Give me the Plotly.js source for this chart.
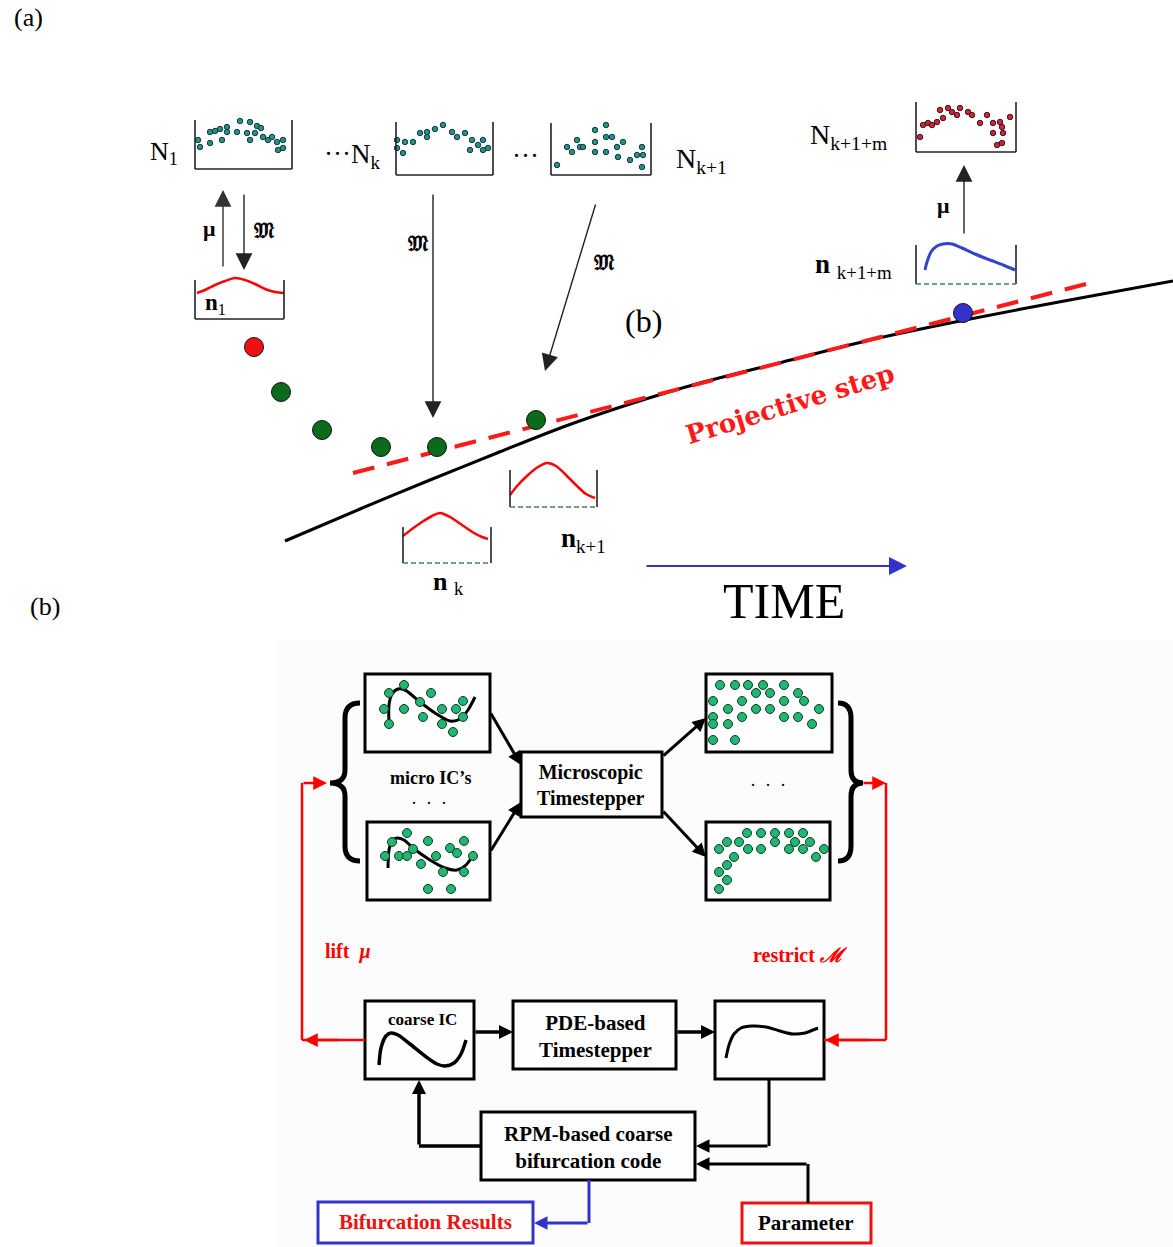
<!DOCTYPE html>
<html>
<head>
<meta charset="utf-8">
<script src="https://cdn.plot.ly/plotly-3.0.1.min.js"></script>
<style>html,body{margin:0;padding:0;background:#fff;}#chart{width:1173px;height:1247px;}</style>
</head>
<body>
<div id="chart"></div>
<script>
// ---------------- DATA (pixel-space diagram coordinates) ----------------
// Panel (a): coarse trajectory and projective step
const trajectory = [[285,541],[360,509],[430,480],[497,453],[563,427],[630,404],[700,383],[783,362],[870,340],[965,320],[1075,299],[1173,281]];
const projectiveStep = [[353,473],[1090,283]];
const bigDotX = [254, 281, 322, 381, 437, 536, 963];
const bigDotY = [347, 392, 430, 447, 447, 420, 313];
const bigDotColor = ['#ee1111','#0b6b1b','#0b6b1b','#0b6b1b','#0b6b1b','#0b6b1b','#3333cc'];

// Coarse profiles n1, nk, nk+1 (red) and nk+1+m (blue)
const n1Curve = [[197,293],[205,290],[215,285],[225,281],[235,278],[245,280],[255,284],[265,289],[275,292],[284,293]];
const nkCurve = [[403,536],[412,529],[422,522],[432,516],[440,513],[450,517],[462,525],[474,533],[482,537],[488,539]];
const nk1Curve = [[510,495],[518,485],[528,475],[538,467],[547,463],[556,466],[566,475],[576,485],[586,494],[595,498]];
const nmCurve = [[925,270],[927,262],[931,252],[937,246],[943,244],[952,244],[962,248],[975,254],[990,260],[1003,265],[1015,270]];

// Microscopic particle snapshots N1, Nk, Nk+1 (green), Nk+1+m (red)
const N1Dots = [[198,140],[200,147],[210,143],[210,132],[215,131],[220,129],[222,140],[227,127],[227,132],[237,132],[240,121],[247,133],[250,122],[250,140],[255,133],[257,126],[261,128],[263,137],[268,140],[272,137],[277,142],[283,140],[283,148],[278,150]];
const NkDots = [[397,140],[397,148],[403,153],[405,142],[413,142],[420,133],[427,137],[427,132],[435,129],[443,125],[452,132],[457,137],[465,133],[472,140],[478,145],[483,140],[483,150],[488,148],[470,150]];
const Nk1Dots = [[557,165],[567,147],[572,152],[577,140],[580,147],[583,147],[595,130],[595,142],[595,152],[606,125],[606,137],[606,152],[612,137],[617,147],[618,157],[623,142],[630,160],[637,155],[642,147],[643,155],[642,167]];
const NmDots = [[920,137],[923,125],[928,123],[932,125],[937,122],[940,110],[943,118],[948,108],[952,112],[957,115],[960,108],[968,112],[972,115],[980,123],[987,115],[993,123],[1000,122],[1002,127],[993,133],[1003,133],[1010,117],[997,145],[1002,143]];

// Panel (b): micro initial conditions and results
const micro1Curve = [[389,723],[389,705],[392,694],[398,689],[405,690],[420,702],[435,713],[450,721],[460,719],[468,710],[475,697]];
const micro2Curve = [[388,868],[389,850],[392,841],[397,838],[404,840],[413,848],[430,860],[445,868],[457,870],[466,865],[475,852]];
const micro1Dots = [[404,685],[389,693],[431,693],[463,701],[384,709],[404,709],[420,702],[442,709],[456,709],[423,717],[463,717],[442,724],[389,724],[453,732]];
const micro2Dots = [[407,833],[428,841],[464,841],[392,842],[413,849],[450,848],[385,856],[399,856],[407,856],[436,856],[457,853],[473,856],[421,864],[443,872],[464,872],[428,889],[451,889]];
const result1Dots = [[720,685],[735,685],[748,685],[763,685],[784,685],[756,693],[770,693],[798,693],[713,701],[742,701],[784,701],[804,701],[728,709],[756,709],[770,709],[819,709],[713,717],[742,717],[784,717],[798,717],[713,724],[728,724],[812,724],[713,740],[735,740]];
const result2Dots = [[747,833],[761,833],[775,833],[789,833],[803,833],[727,842],[739,842],[775,842],[795,842],[810,842],[719,849],[748,849],[761,849],[789,849],[803,849],[824,849],[734,857],[816,857],[727,865],[719,872],[727,880],[719,889]];
const coarseICCurve = [[379,1065],[381,1048],[386,1036],[391,1033],[398,1035],[410,1044],[425,1056],[437,1064],[445,1066],[454,1063],[461,1054],[466,1040]];
const coarseOutCurve = [[726,1058],[729,1045],[734,1034],[741,1028],[752,1026],[766,1027],[780,1031],[793,1034],[805,1033],[813,1030],[818,1028]];

// Text labels
const labelsA = {a:'(a)', b:'(b)', time:'TIME', proj:'Projective step'};
const boxTexts = ['micro IC\u2019s','Microscopic<br>Timestepper','coarse IC','PDE-based<br>Timestepper','RPM-based coarse<br>bifurcation code','Bifurcation Results','Parameter'];

// ---------------- DRAWING ----------------
const SERIF = 'Liberation Serif, Times New Roman, serif';
const xs = p => p.map(d => d[0]);
const ys = p => p.map(d => d[1]);

function line(pts, color, width, dash, smooth){
  return {type:'scatter', mode:'lines', x:xs(pts), y:ys(pts), hoverinfo:'skip',
    line:{color:color, width:width, dash:dash||'solid', shape: smooth ? 'spline' : 'linear', smoothing:0.8}};
}
function dots(pts, size, color, edge){
  return {type:'scatter', mode:'markers', x:xs(pts), y:ys(pts), hoverinfo:'skip',
    marker:{size:size, color:color, line:{color:edge, width:1}}};
}

const traces = [
  line(trajectory, '#000', 3, 'solid', true),
  line(projectiveStep, '#ff1a1a', 4, '22px,13px'),
  {type:'scatter', mode:'markers', x:bigDotX, y:bigDotY, hoverinfo:'skip',
    marker:{size:19, color:bigDotColor, line:{color:'#111', width:1}}},
  line(n1Curve, '#ff0000', 2.5, 'solid', true),
  line(nkCurve, '#ff0000', 2.5, 'solid', true),
  line(nk1Curve, '#ff0000', 2.5, 'solid', true),
  line(nmCurve, '#3344cc', 3, 'solid', true),
  dots(N1Dots, 5.5, '#1f9a66', '#1a2f6a'),
  dots(NkDots, 5.5, '#1f9a66', '#1a2f6a'),
  dots(Nk1Dots, 5.5, '#1f9a66', '#1a2f6a'),
  dots(NmDots, 5.5, '#e02020', '#2a1a3a'),
  line(micro1Curve, '#000', 3, 'solid', true),
  line(micro2Curve, '#000', 3, 'solid', true),
  dots(micro1Dots, 9, '#22b573', '#0d3d25'),
  dots(micro2Dots, 9, '#22b573', '#0d3d25'),
  dots(result1Dots, 9, '#22b573', '#0d3d25'),
  dots(result2Dots, 9, '#22b573', '#0d3d25'),
  line(coarseICCurve, '#000', 3.5, 'solid', true),
  line(coarseOutCurve, '#000', 3, 'solid', true)
];

const shapes = [];
// faint background of panel (b)
shapes.push({type:'rect', x0:275, y0:641, x1:1173, y1:1247, line:{width:0}, fillcolor:'#fcfcfc', layer:'below'});

function ubox(x0,y0,x1,y1,color,w,bottomDash){
  shapes.push({type:'line', x0:x0,y0:y0,x1:x0,y1:y1, line:{color:color,width:w}});
  shapes.push({type:'line', x0:x1,y0:y0,x1:x1,y1:y1, line:{color:color,width:w}});
  shapes.push({type:'line', x0:x0,y0:y1,x1:x1,y1:y1, line:{color: bottomDash ? '#4a7a5a' : color, width:w, dash: bottomDash ? '5px,3px' : 'solid'}});
}
ubox(195,120,292,169,'#222',1.6,false);
ubox(396,122,493,175,'#222',1.6,false);
ubox(551,123,651,175,'#222',1.6,false);
ubox(916,102,1016,152,'#222',1.6,false);
ubox(195,280,284,319,'#222',1.6,false);
ubox(403,527,491,563,'#222',1.6,true);
ubox(510,470,597,507,'#222',1.6,true);
ubox(916,245,1016,284,'#222',1.6,true);

function rect(x0,y0,x1,y1,color,w){
  shapes.push({type:'rect', x0:x0,y0:y0,x1:x1,y1:y1, line:{color:color,width:w}, fillcolor:'rgba(255,255,255,0.6)', layer:'below'});
}
rect(365,674,490,752,'#000',3);
rect(367,822,490,900,'#000',3);
rect(521,752,662,817,'#000',3);
rect(706,674,832,752,'#000',3);
rect(706,822,830,900,'#000',3);
rect(365,1001,474,1079,'#000',3);
rect(513,1001,676,1069,'#000',3);
rect(715,1001,824,1079,'#000',3);
rect(481,1112,695,1180,'#000',3);
rect(318,1202,533,1243,'#3333cc',3);
rect(742,1203,871,1243,'#ee1111',3);

// braces
shapes.push({type:'path', path:'M 360 703 Q 345 703 345 718 L 345 770 Q 345 783 330 783 Q 345 783 345 796 L 345 846 Q 345 861 360 861', line:{color:'#000', width:5}});
shapes.push({type:'path', path:'M 838 703 Q 851 703 851 718 L 851 770 Q 851 783 863 783 Q 851 783 851 796 L 851 846 Q 851 861 838 861', line:{color:'#000', width:5}});

function seg(x0,y0,x1,y1,color,w){ shapes.push({type:'line', x0:x0,y0:y0,x1:x1,y1:y1, line:{color:color,width:w}}); }
// red lift / restrict loops
seg(365,1040,302,1040,'#ff0000',2.5);
seg(302,1040,302,783,'#ff0000',2.5);
seg(886,783,886,1040,'#ff0000',2.5);
seg(886,1040,824,1040,'#ff0000',2.5);
// black connectors
seg(481,1146,419,1146,'#000',3.5);
seg(769,1079,769,1146,'#000',3);
seg(808,1203,808,1164,'#000',3);
// blue connector
seg(589,1180,589,1223,'#3333cc',3);

const ann = [];
function arrow(hx,hy,tx,ty,color,w,size,head){
  ann.push({x:hx,y:hy,ax:tx,ay:ty,xref:'x',yref:'y',axref:'x',ayref:'y',text:'',showarrow:true,
    arrowhead:head||2, arrowsize:size, arrowwidth:w, arrowcolor:color, standoff:0, startstandoff:0});
}
// panel (a) arrows
arrow(223,190,223,268,'#333',1.4,2.4);
arrow(244,270,244,193,'#222',1.4,2.4);
arrow(433,418,433,193,'#222',1.4,2.4);
arrow(545,371,596,203,'#222',1.4,2.4);
arrow(964,165,964,235,'#222',1.4,2.4);
arrow(907,566,645,566,'#3333cc',2,1.8);
// panel (b) arrows
arrow(521,765,490,712,'#000',3,0.9);
arrow(521,802,490,852,'#000',3,0.9);
arrow(706,718,662,757,'#000',3,0.9);
arrow(706,857,662,810,'#000',3,0.9);
arrow(513,1032,474,1032,'#000',3.5,0.8);
arrow(715,1032,676,1032,'#000',3.5,0.8);
arrow(419,1080,419,1146,'#000',3.5,0.8);
arrow(696,1146,769,1146,'#000',3,0.9);
arrow(696,1164,808,1164,'#000',3,0.9);
arrow(534,1223,589,1223,'#3333cc',3,0.9);
arrow(327,783,302,783,'#ff0000',2.5,1.1);
arrow(304,1040,340,1040,'#ff0000',2.5,1.1);
arrow(886,783,862,783,'#ff0000',2.5,1.1);
arrow(825,1040,870,1040,'#ff0000',2.5,1.1);

function txt(x,y,t,size,color,opts){
  ann.push(Object.assign({x:x,y:y,xref:'x',yref:'y',text:t,showarrow:false,xanchor:'center',yanchor:'middle',
    font:{family:SERIF,size:size,color:color||'#000'}}, opts||{}));
}
// panel labels
txt(28,17,labelsA.a,26);
txt(45,606,labelsA.b,26);
txt(643,321,labelsA.b,32);
txt(784,601,labelsA.time,50);
txt(790,404,'<b>'+labelsA.proj+'</b>',26,'#ff1a1a',{textangle:-17, font:{family:'DejaVu Serif, serif',size:26,color:'#ff1a1a'}});
// snapshot labels
txt(164,153,'N<sub>1</sub>',26);
txt(352,156,'\u00b7\u00b7\u00b7N<sub>k</sub>',27);
txt(525,156,'\u00b7\u00b7\u00b7',27);
txt(701,160,'N<sub>k+1</sub>',28);
txt(848,136,'N<sub>k+1+m</sub>',28);
txt(853,266,'<b>n</b> <sub>k+1+m</sub>',27);
txt(215,304,'<b>n</b><sub>1</sub>',23);
txt(448,583,'<b>n</b> <sub>k</sub>',26);
txt(583,540,'<b>n</b><sub>k+1</sub>',27);
txt(209,228,'<b>\u03bc</b>',22);
txt(943,205,'<b>\u03bc</b>',22);
txt(264,230,'<b>\ud835\udd10</b>',22);
txt(418,243,'<b>\ud835\udd10</b>',22);
txt(604,262,'<b>\ud835\udd10</b>',22);
// panel (b) texts
txt(430,778,'<b>'+boxTexts[0]+'</b>',18);
txt(429,803,'\u00b7  \u00b7  \u00b7',18);
txt(768,785,'\u00b7  \u00b7  \u00b7',18);
txt(591,785,'<b>'+boxTexts[1]+'</b>',20);
txt(422,1019,'<b>'+boxTexts[2]+'</b>',17);
txt(595,1036,'<b>'+boxTexts[3]+'</b>',21);
txt(588,1147,'<b>'+boxTexts[4]+'</b>',21);
txt(425,1222,'<b>'+boxTexts[5]+'</b>',21,'#ee1111');
txt(806,1223,'<b>'+boxTexts[6]+'</b>',21);
txt(348,951,'<b>lift  <i>\u03bc</i></b>',20,'#ff0000');
txt(800,955,'<b>restrict <i>\u2133</i></b>',20,'#ff0000');

const layout = {
  width:1173, height:1247, margin:{l:0,r:0,t:0,b:0},
  paper_bgcolor:'#ffffff', plot_bgcolor:'#ffffff', showlegend:false,
  xaxis:{range:[0,1173], visible:false, fixedrange:true},
  yaxis:{range:[1247,0], visible:false, fixedrange:true},
  shapes:shapes, annotations:ann
};
Plotly.newPlot('chart', traces, layout, {staticPlot:true, displayModeBar:false});
</script>
</body>
</html>
